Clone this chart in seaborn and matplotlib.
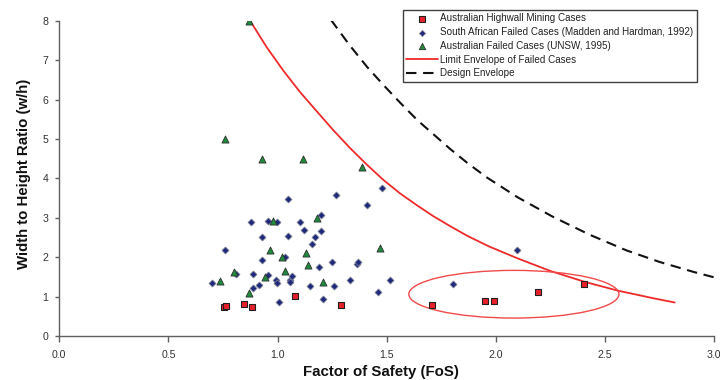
import matplotlib
matplotlib.use("Agg")
import matplotlib.pyplot as plt
from matplotlib.patches import Ellipse
import seaborn as sns
import pandas as pd

# ---------------- data ----------------
highwall_fos = [0.754, 0.766, 0.847, 0.881, 1.078, 1.290, 1.706, 1.950, 1.993, 2.194, 2.405]
highwall_wh = [0.74, 0.77, 0.82, 0.74, 1.01, 0.78, 0.79, 0.90, 0.88, 1.12, 1.32]

sa_fos = [1.050, 1.270, 1.480, 1.409, 0.880, 0.958, 0.998, 1.101, 1.201, 1.120,
          1.201, 0.929, 1.050, 1.170, 1.159, 0.761, 0.929, 1.032, 1.189, 1.250,
          1.363, 1.370, 0.809, 0.889, 0.958, 0.698, 0.992, 0.999, 0.916, 0.889,
          1.059, 1.066, 1.059, 1.149, 1.259, 1.333, 1.517, 1.459, 1.008, 1.210,
          1.802, 2.099]
sa_wh = [3.48, 3.59, 3.75, 3.32, 2.89, 2.91, 2.89, 2.89, 3.08, 2.69,
         2.67, 2.50, 2.54, 2.50, 2.33, 2.19, 1.93, 2.01, 1.74, 1.88,
         1.82, 1.87, 1.58, 1.57, 1.54, 1.34, 1.41, 1.34, 1.29, 1.21,
         1.42, 1.52, 1.36, 1.26, 1.26, 1.41, 1.42, 1.11, 0.87, 0.93,
         1.31, 2.18]

unsw_fos = [0.760, 0.929, 1.118, 1.389, 0.981, 1.181, 1.470, 0.967, 1.021, 1.129,
            1.139, 0.800, 0.738, 0.941, 1.032, 1.210, 0.869, 0.870]
unsw_wh = [5.00, 4.50, 4.48, 4.28, 2.92, 3.00, 2.23, 2.18, 2.00, 2.10,
           1.79, 1.62, 1.40, 1.50, 1.66, 1.36, 1.08, 8.00]

limit_fos = [0.874, 0.95, 1.027, 1.103, 1.18, 1.256, 1.332, 1.409, 1.485, 1.561,
             1.638, 1.714, 1.79, 1.87, 1.97, 2.10, 2.25, 2.41, 2.56, 2.72, 2.82]
limit_wh = [8.0, 7.33, 6.73, 6.19, 5.70, 5.22, 4.77, 4.35, 3.96, 3.62,
            3.32, 3.04, 2.79, 2.54, 2.27, 1.97, 1.65, 1.37, 1.15, 0.96, 0.85]

design_fos = [1.245, 1.33, 1.41, 1.485, 1.56, 1.64, 1.714, 1.79, 1.87, 1.96,
              2.10, 2.26, 2.43, 2.60, 2.75, 2.91, 3.02]
design_wh = [8.02, 7.38, 6.83, 6.37, 5.93, 5.48, 5.12, 4.75, 4.39, 4.02,
             3.52, 3.03, 2.57, 2.17, 1.88, 1.62, 1.46]

ellipse_center = (2.083, 1.06)
ellipse_size = (0.963, 1.21)

labels = ["Australian Highwall Mining Cases",
          "South African Failed Cases (Madden and Hardman, 1992)",
          "Australian Failed Cases (UNSW, 1995)",
          "Limit Envelope of Failed Cases",
          "Design Envelope"]

x_ticks = [0.0, 0.5, 1.0, 1.5, 2.0, 2.5, 3.0]
y_ticks = [0, 1, 2, 3, 4, 5, 6, 7, 8]

# ---------------- style ----------------
sns.set_style("ticks")
plt.rcParams["font.family"] = ["Liberation Sans", "DejaVu Sans"]

fig = plt.figure(figsize=(7.2, 3.8), dpi=100)
ax = fig.add_axes([59.3 / 720, 1 - 336 / 380, (714 - 59.3) / 720, (336 - 20.7) / 380])

df_hw = pd.DataFrame({"x": highwall_fos, "y": highwall_wh})
df_sa = pd.DataFrame({"x": sa_fos, "y": sa_wh})
df_un = pd.DataFrame({"x": unsw_fos, "y": unsw_wh})
df_lim = pd.DataFrame({"x": limit_fos, "y": limit_wh})
df_des = pd.DataFrame({"x": design_fos, "y": design_wh})

sns.lineplot(data=df_lim, x="x", y="y", ax=ax, sort=False, estimator=None,
             color="#ee2a2a", lw=1.3, label=labels[3], zorder=2)
sns.lineplot(data=df_des, x="x", y="y", ax=ax, sort=False, estimator=None,
             color="#111111", lw=1.5, label=labels[4], zorder=2)
ax.lines[-1].set_dashes((5, 3.2))

sns.scatterplot(data=df_sa, x="x", y="y", ax=ax, marker="D", s=13,
                color="#1f2a7c", edgecolor="#8a8a98", linewidth=0.5,
                label=labels[1], zorder=3)
sns.scatterplot(data=df_un, x="x", y="y", ax=ax, marker="^", s=26,
                color="#1f8a3c", edgecolor="#303030", linewidth=0.6,
                label=labels[2], zorder=4)
sns.scatterplot(data=df_hw, x="x", y="y", ax=ax, marker="s", s=20,
                color="#e8202a", edgecolor="#202020", linewidth=0.8,
                label=labels[0], zorder=5)

ell = Ellipse(ellipse_center, ellipse_size[0], ellipse_size[1], fill=False,
              edgecolor="#f04a4a", lw=1.0, zorder=2)
ax.add_patch(ell)

ax.set_xlim(0, 3.0)
ax.set_ylim(0, 8)
ax.set_xticks(x_ticks)
ax.set_xticklabels([f"{v:.1f}" for v in x_ticks])
ax.set_yticks(y_ticks)
ax.set_yticklabels([str(v) for v in y_ticks])
ax.tick_params(axis="x", direction="out", length=4, width=1, color="#606060",
               labelsize=7.6, labelcolor="#333333", pad=6)
ax.tick_params(axis="y", direction="out", length=3, width=1, color="#606060",
               labelsize=7.6, labelcolor="#333333", pad=5)
sns.despine(ax=ax)
for s in ("left", "bottom"):
    ax.spines[s].set_color("#606060")
    ax.spines[s].set_linewidth(1.0)

ax.set_xlabel("Factor of Safety (FoS)", fontsize=10.8, fontweight="bold", color="#111111")
ax.set_ylabel("Width to Height Ratio (w/h)", fontsize=10.8, fontweight="bold", color="#111111")
ax.xaxis.set_label_coords(0.4906, -0.092)
ax.yaxis.set_label_coords(-0.043, 0.515)

handles, labs = ax.get_legend_handles_labels()
order = [labs.index(l) for l in labels]
leg = ax.legend([handles[i] for i in order], [labs[i] for i in order],
                loc="upper left", bbox_to_anchor=(403 / 720, 1 - 10 / 380),
                bbox_transform=fig.transFigure, fontsize=7.1, frameon=True,
                fancybox=False, framealpha=1, edgecolor="#404040",
                borderpad=0.35, labelspacing=0.38, handlelength=3.2,
                handletextpad=0.2, borderaxespad=0, markerscale=0.9)
leg.get_frame().set_linewidth(1.0)
for t in leg.get_texts():
    t.set_color("#222222")

fig.savefig("out.png", dpi=100)
